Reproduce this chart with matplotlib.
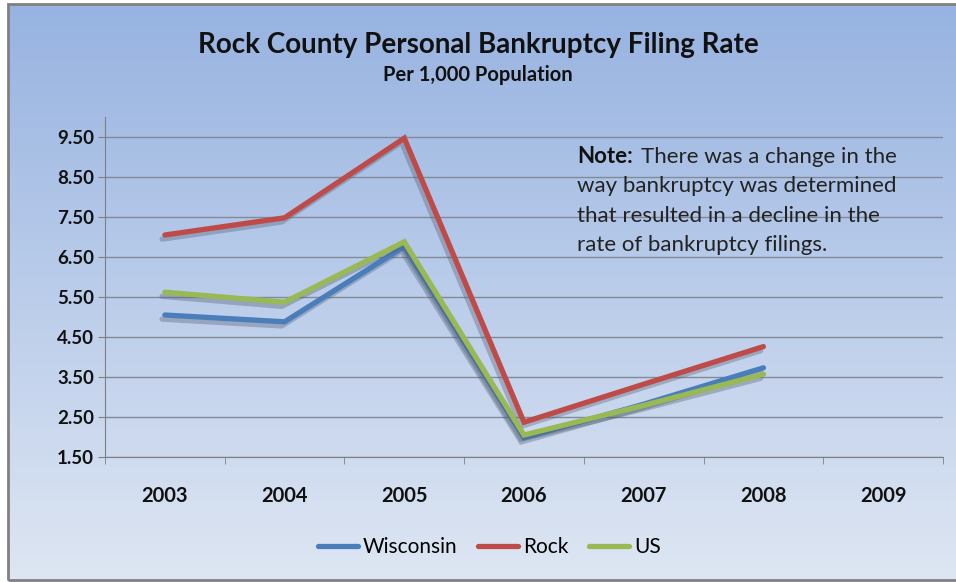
"""Rock County personal bankruptcy filing rate, per 1,000 population."""
import numpy as np
import matplotlib

matplotlib.use("Agg")
import matplotlib.pyplot as plt
import matplotlib.patheffects as pe
from matplotlib.patches import Rectangle

YEARS = ["2003", "2004", "2005", "2006", "2007", "2008", "2009"]
WISCONSIN = [5.05, 4.88, 6.76, 1.98, 2.82, 3.73]
ROCK = [7.05, 7.48, 9.47, 2.37, 3.32, 4.26]
US = [5.62, 5.37, 6.88, 2.05, 2.79, 3.57]
Y_TICKS = [1.5, 2.5, 3.5, 4.5, 5.5, 6.5, 7.5, 8.5, 9.5]

SERIES = [("Wisconsin", WISCONSIN, "#4a7ebb"),
          ("Rock", ROCK, "#be4b48"),
          ("US", US, "#98b954")]

plt.rcParams["font.family"] = ["Lato", "DejaVu Sans"]

W, H = 956, 582
fig = plt.figure(figsize=(W / 100, H / 100), dpi=100)

# background gradient inside gray frame
bg = fig.add_axes([8 / W, 2 / H, 1 - 8 / W, 1 - 6 / H])
grad = np.linspace(0, 1, 256)[:, None]
top = np.array([0.592, 0.702, 0.882])
bot = np.array([0.870, 0.902, 0.953])
img = top + (bot - top) * grad[..., None]
bg.imshow(img, aspect="auto", extent=(0, 1, 0, 1), origin="upper")
bg.set_axis_off()
fig.patches.append(Rectangle((8 / W, 2 / H), 1 - 8 / W + 0.01, 1 - 6 / H,
                             transform=fig.transFigure, fill=False,
                             edgecolor="#808080", linewidth=2))

ax = fig.add_axes([105 / W, (H - 457) / H, (943 - 105) / W, (457 - 117) / H])
ax.patch.set_alpha(0)
x = np.arange(len(YEARS))
for name, vals, color in SERIES:
    ax.plot(x[:len(vals)], vals, color=color, lw=3.8, label=name,
            solid_capstyle="round", solid_joinstyle="miter",
            path_effects=[pe.SimpleLineShadow(offset=(-2, -3), shadow_color="#505a6e",
                                              alpha=0.35, rho=1),
                          pe.Normal()])

ax.set_xlim(-0.5, len(YEARS) - 0.5)
ax.set_ylim(1.5, 10)
ax.set_yticks(Y_TICKS)
ax.set_yticklabels([f"{v:.2f}" for v in Y_TICKS])
ax.set_xticks(x)
ax.set_xticklabels(YEARS)
ax.set_xticks(np.arange(-0.5, len(YEARS)), minor=True)
ax.tick_params(axis="x", which="major", length=0, pad=21)
ax.tick_params(axis="x", which="minor", length=5, color="#7f7f7f")
ax.tick_params(axis="y", length=5, color="#7f7f7f", pad=3)
for lab in ax.get_xticklabels():
    lab.set_fontweight("bold")
    lab.set_fontsize(14.5)
    lab.set_color("#111111")
for lab in ax.get_yticklabels():
    lab.set_fontweight("bold")
    lab.set_fontsize(13.5)
    lab.set_color("#111111")
ax.grid(axis="y", color="#808a99", lw=1)
ax.set_axisbelow(True)
for s in ("top", "right"):
    ax.spines[s].set_visible(False)
ax.spines["left"].set_color("#7f7f7f")
ax.spines["bottom"].set_color("#7f7f7f")

fig.text(0.5, 1 - 45 / H, "Rock County Personal Bankruptcy Filing Rate",
         ha="center", va="center", fontsize=20, fontweight="bold", color="#111111")
fig.text(0.5, 1 - 75 / H, "Per 1,000 Population",
         ha="center", va="center", fontsize=14.5, fontweight="bold", color="#111111")

note_lines = ["There was a change in the", "way bankruptcy was determined",
              "that resulted in a decline in the", "rate of bankruptcy filings."]
nx = 577 / W
note_fs = 16
t = fig.text(nx, 1 - 157 / H, "Note:", ha="left", va="center",
             fontsize=note_fs, fontweight="bold", color="#111111")
bb = t.get_window_extent(renderer=fig.canvas.get_renderer())
fig.text((bb.x1 + 8) / W, 1 - 157 / H, note_lines[0], ha="left", va="center",
         fontsize=note_fs, color="#222222")
for i, line in enumerate(note_lines[1:], start=1):
    fig.text(nx, 1 - (157 + 29.3 * i) / H, line, ha="left", va="center",
             fontsize=note_fs, color="#222222")

leg = fig.legend(loc="center", bbox_to_anchor=(0.512, 1 - 547 / H), ncol=3,
                 frameon=False, fontsize=15, handlelength=1.9, handletextpad=0.25,
                 columnspacing=1.0)
for h in leg.get_lines():
    h.set_path_effects([])
    h.set_linewidth(3.8)

fig.savefig("out.png", dpi=100)
